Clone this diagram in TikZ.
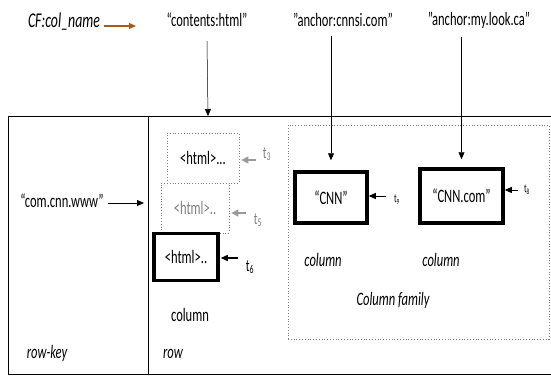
\documentclass[tikz,border=0pt]{standalone}
\usepackage{fontspec}
\setmainfont{Carlito}[FakeStretch=0.66]
\usetikzlibrary{arrows.meta}
\begin{document}
\begin{tikzpicture}[x=1pt,y=-1pt,
  lbl/.style={inner sep=0pt,font=\fontsize{19}{20}\selectfont},
  ilbl/.style={inner sep=0pt,font=\fontsize{19}{20}\selectfont\itshape},
  thickbox/.style={draw,line width=3.5pt,inner sep=0pt},
  dotbox/.style={draw=gray,dotted,line width=0.8pt,inner sep=0pt},
  arr/.style={-{Triangle[length=7pt,width=6pt]},line width=0.9pt},
  thinarr/.style={-{Triangle[length=7pt,width=6pt]},line width=0.5pt},
  grayarr/.style={-{Triangle[length=7pt,width=7pt]},line width=1.4pt,draw=gray!80,color=gray!80}
]
\useasboundingbox (0,0) rectangle (551,375);
% table frame
\draw[line width=0.8pt] (551,116) -- (8,116) -- (8,374) -- (551,374);
\draw[line width=0.6pt] (148,116) -- (148,374);
\coordinate (tabtopA) at (208,116);
% top labels
\node[inner sep=0pt,font=\fontsize{21}{22}\selectfont\itshape] (cf) at (64,22) {CF:col\_name};
\coordinate (cfarrend) at (136,26);
\draw[-{Triangle[length=7pt,width=6pt]},line width=1.2pt,draw={rgb,255:red,170;green,90;blue,30},color={rgb,255:red,170;green,90;blue,30}] ([shift={(4,4)}]cf.east) -- (cfarrend);
\node[lbl] (ch) at (207,20) {“contents:html”};
\node[lbl] (a1) at (343,20) {”anchor:cnnsi.com”};
\node[lbl] (a2) at (479,20) {”anchor:my.look.ca”};
% column family box
\node[dotbox,minimum width=261pt,minimum height=214pt] (cfbox) at (418.5,232) {};
% CNN boxes
\node[thickbox,minimum width=72pt,minimum height=51pt,lbl] (cnn) at (331,197.5) {“CNN”\hspace{8pt}};
\node[thickbox,minimum width=83pt,minimum height=54pt,lbl] (cnncom) at (461.5,196) {“CNN.com”};
\draw[thinarr] ([yshift=-9pt]a1.south -| cnn.north) -- ([yshift=10pt]cnn.north);
\draw[thinarr] ([yshift=-9pt]a2.south -| cnncom.north) -- ([yshift=8pt]cnncom.north);
\node[inner sep=0pt,font=\fontsize{12}{13}\selectfont] (t9) at (397,200) {t\textsubscript{9}};
\node[inner sep=0pt,font=\fontsize{12}{13}\selectfont] (t8) at (527,190) {t\textsubscript{8}};
\draw[arr] ([xshift=-8pt]t9.west |- 0,196) coordinate (t9a) -- (cnn.east |- t9a);
\draw[arr] ([xshift=-6pt]t8.west |- 0,190) coordinate (t8a) -- (cnncom.east |- t8a);
\node[ilbl] (col2) at (323,260) {column};
\node[ilbl] (col3) at (441,260) {column};
\node[ilbl] (cfam) at (393,300) {Column family};
% html boxes
\node[dotbox,minimum width=72pt,minimum height=50pt,lbl] (h3) at (203,158) {<html>...};
\node[dotbox,minimum width=68pt,minimum height=50pt,lbl,text=gray] (h5) at (195,208) {<html>..};
\node[thickbox,minimum width=64pt,minimum height=47pt,lbl] (h6) at (186,257) {<html>..};
\draw[thinarr] ([yshift=-14pt]ch.south) -- (tabtopA);
\node[inner sep=0pt,font=\fontsize{17}{18}\selectfont,text=gray] (t3) at (267,154) {t\textsubscript{3}};
\node[inner sep=0pt,font=\fontsize{17}{18}\selectfont,text=gray] (t5) at (258,220) {t\textsubscript{5}};
\node[inner sep=0pt,font=\fontsize{17}{18}\selectfont] (t6) at (250,267) {t\textsubscript{6}};
\draw[grayarr] (256,160) -- ([xshift=2pt]h3.east |- 0,160);
\draw[grayarr] (246,213) -- ([xshift=2pt]h5.east |- 0,213);
\draw[arr,line width=1.4pt] (238,258) -- ([xshift=1pt]h6.east |- 0,258);
\node[lbl] (col1) at (190,315) {column};
\node[ilbl] (row) at (173,354) {row};
\node[ilbl] (rowkey) at (47,353) {row-key};
\node[lbl] (key) at (62,201) {“com.cnn.www”};
\draw[arr] (108,203) -- (144,203);
\end{tikzpicture}
\end{document}
